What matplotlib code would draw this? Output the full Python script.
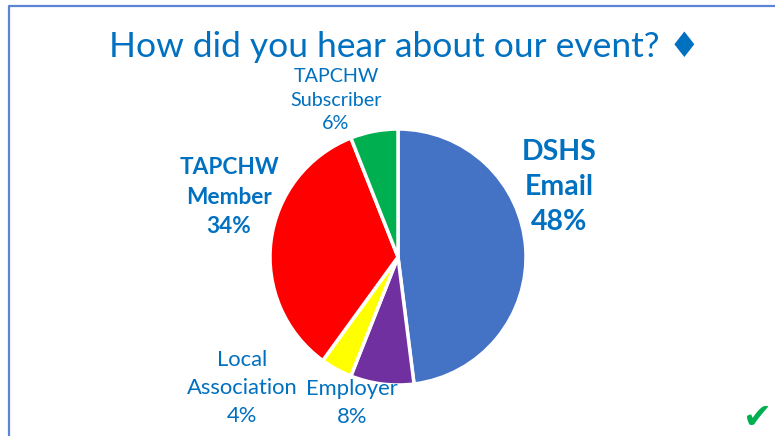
import matplotlib.pyplot as plt

# Survey answers (percent)
categories = ['DSHS\nEmail', 'Employer', 'Local\nAssociation', 'TAPCHW\nMember', 'TAPCHW\nSubscriber']
shares = [48, 8, 4, 34, 6]
colors = ['#4472C4', '#7030A0', '#FFFF00', '#FF0000', '#00B050']

# label layout (figure pixels, y from top) and styling
label_pos = [(559, 187), (352, 403), (242, 388), (229, 197), (336, 100)]
label_size = [20.5, 15.8, 15.8, 16.3, 14.2]
label_bold = [True, False, False, True, False]
label_ls = [1.45, 1.5, 1.5, 1.48, 1.48]
text_blue = '#0070C0'

W, H = 775, 436
fig = plt.figure(figsize=(W / 100, H / 100), dpi=100)
ax = fig.add_axes([0, 0, 1, 1])

# slide frame (only left and top edges visible)
ax.plot([9, 9, W + 5], [-5, H - 6, H - 6], color='#5B84D6', lw=1.6, solid_capstyle='butt')

ax.pie(shares, colors=colors, startangle=90, counterclock=False,
       center=(398, H - 257), radius=128, frame=True,
       wedgeprops=dict(edgecolor='white', linewidth=2.5))
ax.set_xlim(0, W)
ax.set_ylim(0, H)
ax.axis('off')

for cat, val, (x, y), fs, bold, ls in zip(categories, shares, label_pos, label_size,
                                          label_bold, label_ls):
    ax.text(x, H - y, f'{cat}\n{val}%', ha='center', va='center', fontsize=fs,
            color=text_blue, fontweight='bold' if bold else 'normal',
            family=['Lato', 'DejaVu Sans'], linespacing=ls)

ax.text(405, H - 47, 'How did you hear about our event? \u2666', ha='center', va='center',
        fontsize=25.5, color=text_blue, family=['Lato', 'DejaVu Sans'])

# check mark in the corner
ax.text(758, H - 418, '\u2714', ha='center', va='center', fontsize=25,
        color='#00B050', family=['DejaVu Sans'])

fig.savefig('out.png', dpi=100)
